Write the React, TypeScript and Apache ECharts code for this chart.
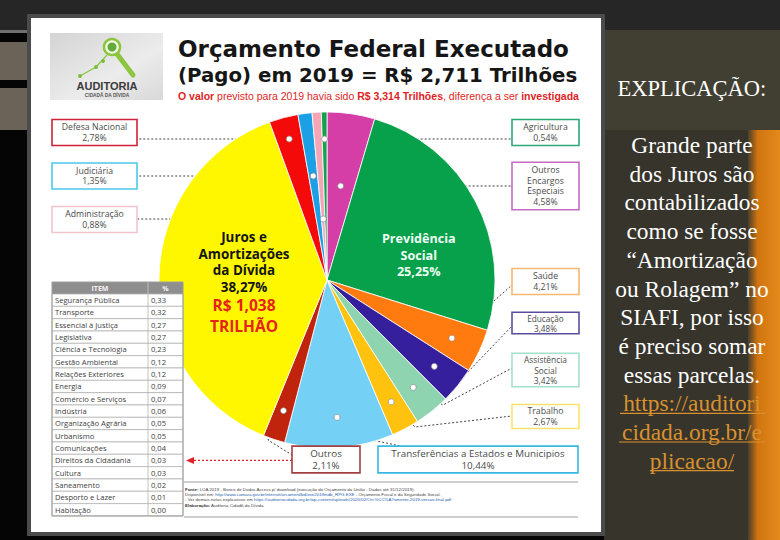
import React, { useEffect, useRef } from 'react';
import * as echarts from 'echarts';

// ---------- DATA ----------
const categories = [
  'Outros Encargos Especiais', 'Previdência Social', 'Saúde', 'Educação', 'Assistência Social',
  'Trabalho', 'Transferências a Estados e Municipios', 'Outros', 'Juros e Amortizações da Dívida',
  'Defesa Nacional', 'Judiciária', 'Administração', 'Agricultura',
];
const shares = [4.58, 25.25, 4.21, 3.48, 3.42, 2.67, 10.44, 2.11, 38.27, 2.78, 1.35, 0.88, 0.54];
const labelNames = [
  'Outros\nEncargos\nEspeciais', 'Previdência\nSocial', 'Saúde', 'Educação', 'Assistência\nSocial',
  'Trabalho', 'Transferências a Estados e Municipios', 'Outros', 'Juros e\nAmortizações\nda Dívida',
  'Defesa Nacional', 'Judiciária', 'Administração', 'Agricultura',
];
const jurosValue = 'R$ 1,038';
const jurosUnit = 'TRILHÃO';

const tableItems = [
  'Segurança Pública', 'Transporte', 'Essencial à Justiça', 'Legislativa', 'Ciência e Tecnologia',
  'Gestão Ambiental', 'Relações Exteriores', 'Energia', 'Comércio e Serviços', 'Indústria',
  'Organização Agrária', 'Urbanismo', 'Comunicações', 'Direitos da Cidadania', 'Cultura',
  'Saneamento', 'Desporto e Lazer', 'Habitação',
];
const tableValues = [0.33, 0.32, 0.27, 0.27, 0.23, 0.12, 0.12, 0.09, 0.07, 0.06, 0.05, 0.05, 0.04, 0.03, 0.03, 0.02, 0.01, 0.0];

const titleLine1 = 'Orçamento Federal Executado';
const titleLine2 = '(Pago) em 2019 = R$ 2,711 Trilhões';

const explanationTitle = 'EXPLICAÇÃO:';
const explanationLines = [
  'Grande parte', 'dos Juros são', 'contabilizados', 'como se fosse', '“Amortização',
  'ou Rolagem” no', 'SIAFI, por isso', 'é preciso somar', 'essas parcelas.',
];
const linkLines = ['https://auditori', 'cidada.org.br/e', 'plicacao/'];

const footerLines = [
  '{b|Fonte:} LOA 2019 - Banco de Dados Access p/ download (execução do Orçamento da União - Dados até 31/12/2019).',
  'Disponível em: {l|http://www.camara.gov.br/internet/orcament/bd/exe2019mdb_RPG.EXE} - Orçamento Fiscal e da Seguridade Social.',
  '- Ver demais notas explicativas em {l|https://auditoriacidada.org.br/wp-content/uploads/2020/02/Orc%CC%A7amento-2019-versao-final.pdf}',
  '{b|Elaboração:} Auditoria Cidadã da Dívida.',
];

// ---------- STYLE / LAYOUT ----------
const sliceColors = [
  '#d63ea7', '#07a04b', '#ff7b0f', '#351f9c', '#8ed4b0', '#ffc20e', '#74d0f4',
  '#c1240c', '#fff700', '#f50a0a', '#1ba0e6', '#f5a5b5', '#14a04e',
];
const PIE_CX = 327;
const PIE_CY = 280;
const PIE_R = 168;

type Box = { cx: number; cy: number; w: number; color: string; fs: number; lh: number; pad: number[] };
const boxes: Record<number, Box> = {
  0: { cx: 545.5, cy: 186, w: 67, color: '#c46ac4', fs: 8.7, lh: 10.7, pad: [1.5, 3] },
  2: { cx: 545.5, cy: 281.5, w: 67, color: '#f5b870', fs: 8.7, lh: 10.7, pad: [1.5, 3] },
  3: { cx: 545.5, cy: 323, w: 67, color: '#5b4d9e', fs: 8.2, lh: 10, pad: [0, 3] },
  4: { cx: 545.5, cy: 370, w: 67, color: '#a6e0cc', fs: 8.4, lh: 10.3, pad: [0.5, 3] },
  5: { cx: 545.5, cy: 416.5, w: 67, color: '#ffe36b', fs: 8.7, lh: 10.7, pad: [0.5, 3] },
  6: { cx: 478, cy: 459.5, w: 200, color: '#38b8e0', fs: 9.8, lh: 12.1, pad: [0.5, 4] },
  7: { cx: 326, cy: 459.5, w: 68, color: '#a04040', fs: 9.8, lh: 12.1, pad: [0.5, 3] },
  9: { cx: 94.5, cy: 132.5, w: 85, color: '#d0203a', fs: 8.7, lh: 10.7, pad: [1.5, 3] },
  10: { cx: 94.5, cy: 176, w: 85, color: '#4cc8ec', fs: 8.7, lh: 10.7, pad: [1.5, 3] },
  11: { cx: 94.5, cy: 219.5, w: 85, color: '#f2c4cc', fs: 8.7, lh: 10.7, pad: [1.5, 3] },
  12: { cx: 545.5, cy: 132.5, w: 67, color: '#2aa876', fs: 8.7, lh: 10.7, pad: [1.5, 3] },
};
// horizontal leader lines: [y, x at box edge]
const hLines: Record<number, number[]> = { 0: [186, 512], 9: [139, 137], 10: [176, 137], 11: [219, 137], 12: [139, 512] };
// bent leader lines: intermediate points after the dot
const bentLines: Record<number, number[][]> = {
  2: [[512, 285]],
  3: [[465, 375], [512, 326]],
  4: [[443, 405], [512, 368]],
  5: [[415, 427], [512, 416]],
  6: [[372, 440], [405, 447]],
  7: [[268, 440], [292, 455]],
};
const DOT_FRAC = 0.82;

const fmt = (v: number) => v.toFixed(2).replace('.', ',');
const total = shares.reduce((a, b) => a + b, 0);
const midAngle = (i: number) => {
  let before = 0;
  for (let k = 0; k < i; k++) before += shares[k];
  return ((before + shares[i] / 2) / total) * 2 * Math.PI;
};
const dotPos = (i: number): number[] => {
  const a = midAngle(i);
  let t = PIE_R * DOT_FRAC;
  if (hLines[i]) t = (PIE_CY - hLines[i][0]) / Math.cos(a);
  return [PIE_CX + t * Math.sin(a), PIE_CY - t * Math.cos(a)];
};
const linePoints = (i: number): number[][] => {
  const d = dotPos(i);
  if (hLines[i]) return [d, [(d[0] + hLines[i][1]) / 2, d[1]], [hLines[i][1], d[1]]];
  const rest = bentLines[i];
  if (rest.length === 1) return [d, [(d[0] + rest[0][0]) / 2, (d[1] + rest[0][1]) / 2], rest[0]];
  return [d, ...rest];
};

const BOX_FONT = "'Open Sans', 'Noto Sans', sans-serif";

function buildPieData() {
  return categories.map((name, i) => {
    const base: any = { name, value: shares[i], itemStyle: { color: sliceColors[i] } };
    if (i === 8) {
      base.label = {
        show: true,
        position: 'inside',
        formatter: labelNames[i].split('\n').map((s) => `{a|${s}}`).join('\n') +
          `\n{a|${fmt(shares[i])}%}\n{b|${jurosValue}}\n{b|${jurosUnit}}`,
        rich: {
          a: { fontSize: 13.4, fontWeight: 'bold', color: '#141414', lineHeight: 16.6, fontFamily: BOX_FONT, align: 'center' },
          b: { fontSize: 15.5, fontWeight: 'bold', color: '#e5231b', lineHeight: 20.5, fontFamily: BOX_FONT, align: 'center' },
        },
      };
      base.labelLine = { show: false };
    } else if (i === 1) {
      base.label = {
        show: true,
        position: 'inside',
        formatter: `${labelNames[i]}\n${fmt(shares[i])}%`,
        fontSize: 12.6,
        fontWeight: 'bold',
        lineHeight: 16.6,
        color: '#eefff4',
        fontFamily: BOX_FONT,
        align: 'center',
      };
      base.labelLine = { show: false };
    } else {
      const b = boxes[i];
      base.label = {
        show: true,
        position: 'outside',
        formatter: `${labelNames[i]}\n${fmt(shares[i])}%`,
        fontSize: b.fs,
        lineHeight: b.lh,
        color: '#4a4a4a',
        fontFamily: BOX_FONT,
        align: 'center',
        backgroundColor: '#ffffff',
        borderColor: b.color,
        borderWidth: 1.6,
        padding: b.pad,
        width: b.w - b.pad[1] * 2 - 1.6,
      };
      base.labelLine = { show: true, length: 5, length2: 5, lineStyle: { type: [2, 2], color: '#444', width: 1 } };
    }
    return base;
  });
}

function buildGraphics() {
  const g: any[] = [];
  // page background
  g.push({ type: 'rect', z: -20, shape: { x: 0, y: 0, width: 780, height: 540 }, style: { fill: '#050505' } });
  g.push({ type: 'rect', z: -19, shape: { x: 0, y: 0, width: 780, height: 30 }, style: { fill: '#262626' } });
  g.push({ type: 'rect', z: -19, shape: { x: 604, y: 30, width: 176, height: 510 }, style: { fill: '#36342b' } });
  g.push({ type: 'rect', z: -19, shape: { x: 604, y: 30, width: 176, height: 100 }, style: { fill: '#413e32' } });
  g.push({
    type: 'rect', z: -18, shape: { x: 748, y: 130, width: 32, height: 410 },
    style: {
      fill: new echarts.graphic.LinearGradient(0, 0, 1, 0, [
        { offset: 0, color: 'rgba(80,66,42,0.9)' },
        { offset: 0.3, color: '#d0740f' },
        { offset: 1, color: '#e58a1c' },
      ]),
    },
  });
  // left strip bands
  g.push({ type: 'rect', z: -19, shape: { x: 0, y: 30, width: 28, height: 3 }, style: { fill: '#6f6f6f' } });
  g.push({ type: 'rect', z: -19, shape: { x: 0, y: 42, width: 28, height: 38 }, style: { fill: '#6b6357' } });
  g.push({ type: 'rect', z: -19, shape: { x: 0, y: 88, width: 28, height: 42 }, style: { fill: '#6b6357' } });
  // card
  g.push({ type: 'rect', z: -15, shape: { x: 29, y: 16, width: 574, height: 518 }, style: { fill: '#ffffff', stroke: '#4b4b4b', lineWidth: 4 } });

  // logo
  g.push({
    type: 'rect', z: -10, shape: { x: 50, y: 33, width: 113, height: 67 },
    style: {
      fill: new echarts.graphic.LinearGradient(0, 0, 1, 1, [
        { offset: 0, color: '#d4d4d4' },
        { offset: 0.6, color: '#ececec' },
        { offset: 1, color: '#d8d8d8' },
      ]),
    },
  });
  g.push({ type: 'polyline', z: -9, shape: { points: [[80, 76], [96, 67], [107, 55]] }, style: { stroke: '#8cc63f', lineWidth: 1.3, fill: 'none' } });
  [[80, 76], [96, 67], [103, 61]].forEach((p) => g.push({ type: 'circle', z: -8, shape: { cx: p[0], cy: p[1], r: 2 }, style: { fill: '#7cbf3a' } }));
  g.push({ type: 'line', z: -9, shape: { x1: 117, y1: 54, x2: 133, y2: 75 }, style: { stroke: '#8cc63f', lineWidth: 5, lineCap: 'round' } });
  g.push({ type: 'circle', z: -8, shape: { cx: 112, cy: 47, r: 8 }, style: { fill: '#f4fbe9', stroke: '#8cc63f', lineWidth: 2.5 } });
  g.push({ type: 'circle', z: -7, shape: { cx: 112, cy: 47, r: 4.5 }, style: { fill: '#62ad3a' } });
  g.push({ type: 'text', z: -7, style: { text: 'AUDITORIA', x: 107, y: 86, align: 'center', verticalAlign: 'middle', fontSize: 11, fontWeight: 'bold', fill: '#3a3a3a', fontFamily: "'Liberation Sans', Arial, sans-serif" } });
  g.push({ type: 'text', z: -7, style: { text: 'CIDADÃ DA DÍVIDA', x: 107, y: 95, align: 'center', verticalAlign: 'middle', fontSize: 4.8, fontWeight: 'bold', fill: '#555', fontFamily: "'Liberation Sans', Arial, sans-serif" } });

  // title
  const titleFont = "'DejaVu Sans', sans-serif";
  g.push({ type: 'text', z: 5, style: { text: titleLine1, x: 178, y: 49, verticalAlign: 'middle', fontSize: 23, fontWeight: 'bold', fill: '#161616', fontFamily: titleFont } });
  g.push({ type: 'text', z: 5, style: { text: titleLine2, x: 178, y: 75, verticalAlign: 'middle', fontSize: 19.8, fontWeight: 'bold', fill: '#161616', fontFamily: titleFont } });
  g.push({
    type: 'text', z: 5,
    style: {
      text: '{b|O valor} previsto para 2019 havia sido {b|R$ 3,314 Trilhões}, diferença a ser {b|investigada}',
      x: 178, y: 96, verticalAlign: 'middle', fontSize: 10.5, fill: '#de1f26',
      fontFamily: "'Liberation Sans Narrow', 'Liberation Sans', sans-serif",
      rich: { b: { fontSize: 10.5, fontWeight: 'bold', fill: '#de1f26', fontFamily: "'Liberation Sans Narrow', 'Liberation Sans', sans-serif" } },
    },
  });

  // table
  const tx0 = 52, tx1 = 183, tcol = 148, ty0 = 282, headH = 12, rowH = 12.33;
  g.push({ type: 'rect', z: 5, shape: { x: tx0, y: ty0, width: tx1 - tx0, height: headH }, style: { fill: '#8e8e8e' } });
  g.push({ type: 'line', z: 6, shape: { x1: tcol, y1: ty0, x2: tcol, y2: ty0 + headH }, style: { stroke: '#bdbdbd', lineWidth: 1 } });
  g.push({ type: 'text', z: 6, style: { text: 'ITEM', x: (tx0 + tcol) / 2, y: ty0 + headH / 2, align: 'center', verticalAlign: 'middle', fontSize: 7, fontWeight: 'bold', fill: '#f4f4f4', fontFamily: BOX_FONT } });
  g.push({ type: 'text', z: 6, style: { text: '%', x: (tcol + tx1) / 2, y: ty0 + headH / 2, align: 'center', verticalAlign: 'middle', fontSize: 7, fontWeight: 'bold', fill: '#f4f4f4', fontFamily: BOX_FONT } });
  tableItems.forEach((item, i) => {
    const y = ty0 + headH + i * rowH;
    g.push({ type: 'rect', z: 5, shape: { x: tx0, y, width: tx1 - tx0, height: rowH }, style: { fill: '#fff', stroke: '#b4b4b4', lineWidth: 0.8 } });
    g.push({ type: 'line', z: 6, shape: { x1: tcol, y1: y, x2: tcol, y2: y + rowH }, style: { stroke: '#b4b4b4', lineWidth: 0.8 } });
    g.push({ type: 'text', z: 6, style: { text: item, x: tx0 + 3, y: y + rowH / 2, verticalAlign: 'middle', fontSize: 7.6, fill: '#404040', fontFamily: BOX_FONT } });
    g.push({ type: 'text', z: 6, style: { text: fmt(tableValues[i]), x: tcol + 3, y: y + rowH / 2, verticalAlign: 'middle', fontSize: 7.6, fill: '#404040', fontFamily: BOX_FONT } });
  });
  g.push({ type: 'rect', z: 6, shape: { x: tx0, y: ty0, width: tx1 - tx0, height: headH + rowH * tableItems.length }, style: { fill: 'none', stroke: '#9c9c9c', lineWidth: 1 } });

  // red arrow from Outros box to table
  const arrowY = ty0 + headH + 13.5 * rowH;
  g.push({ type: 'line', z: 7, shape: { x1: 292, y1: arrowY, x2: 192, y2: arrowY }, style: { stroke: '#e0202a', lineWidth: 1.2, lineDash: [2, 2] } });
  g.push({ type: 'polygon', z: 7, shape: { points: [[186, arrowY], [194, arrowY - 3.5], [194, arrowY + 3.5]] }, style: { fill: '#e0202a' } });

  // dots at leader line starts
  categories.forEach((_, i) => {
    if (i === 1 || i === 8) return;
    const d = dotPos(i);
    g.push({ type: 'circle', z: 100, shape: { cx: d[0], cy: d[1], r: 3 }, style: { fill: '#ffffff', stroke: '#8a8a8a', lineWidth: 0.7 } });
  });

  // footer
  g.push({ type: 'line', z: 5, shape: { x1: 184, y1: 482, x2: 578, y2: 482 }, style: { stroke: '#a0a0a0', lineWidth: 1.2 } });
  g.push({ type: 'line', z: 5, shape: { x1: 184, y1: 517, x2: 578, y2: 517 }, style: { stroke: '#a0a0a0', lineWidth: 1.2 } });
  footerLines.forEach((t, i) => {
    g.push({
      type: 'text', z: 5,
      style: {
        text: t, x: 185, y: 489 + i * 5.4, verticalAlign: 'middle', fontSize: 4.4, fill: '#444', fontFamily: "'Liberation Sans', sans-serif",
        rich: {
          b: { fontSize: 4.4, fontWeight: 'bold', fill: '#333', fontFamily: "'Liberation Sans', sans-serif" },
          l: { fontSize: 4.4, fill: '#1f5fb0', fontFamily: "'Liberation Sans', sans-serif" },
        },
      },
    });
  });

  // right-side explanation
  const serif = "'Liberation Serif', 'DejaVu Serif', serif";
  g.push({ type: 'text', z: 5, style: { text: explanationTitle, x: 692, y: 88, align: 'center', verticalAlign: 'middle', fontSize: 22.5, fill: '#ffffff', fontFamily: serif } });
  explanationLines.forEach((t, i) => {
    g.push({ type: 'text', z: 5, style: { text: t, x: 692, y: 145 + i * 28.7, align: 'center', verticalAlign: 'middle', fontSize: 23.4, fill: '#ffffff', fontFamily: serif } });
  });
  const linkExtents = [[620, 765], [619, 765], [650, 734]];
  linkLines.forEach((t, i) => {
    const y = 145 + (explanationLines.length + i) * 28.7;
    g.push({ type: 'text', z: 5, style: { text: t, x: 692, y, align: 'center', verticalAlign: 'middle', fontSize: 23.4, fill: '#d99130', fontFamily: serif } });
    g.push({ type: 'line', z: 5, shape: { x1: linkExtents[i][0], y1: y + 10, x2: linkExtents[i][1], y2: y + 10 }, style: { stroke: '#d99130', lineWidth: 1.2 } });
  });
  return g;
}

export default function App() {
  const ref = useRef<HTMLDivElement>(null);
  useEffect(() => {
    if (!ref.current) return;
    const chart = echarts.init(ref.current, undefined, { renderer: 'svg' });
    chart.setOption({
      animation: false,
      backgroundColor: 'transparent',
      graphic: { elements: buildGraphics() },
      series: [
        {
          type: 'pie',
          z: 2,
          center: [PIE_CX, PIE_CY],
          radius: [0, PIE_R],
          startAngle: 90,
          clockwise: true,
          avoidLabelOverlap: false,
          silent: true,
          itemStyle: { borderColor: '#ffffff', borderWidth: 0.8 },
          data: buildPieData(),
          labelLayout: (params: any) => {
            const i = params.dataIndex;
            if (i === 8) return { dx: 4, dy: 4 };
            if (i === 1) return { dx: 15, dy: 16 };
            const b = boxes[i];
            return {
              x: b.cx,
              y: b.cy,
              align: 'center',
              verticalAlign: 'middle',
              labelLinePoints: linePoints(i),
            };
          },
        },
      ],
    });
    return () => chart.dispose();
  }, []);
  return <div ref={ref} style={{ position: 'absolute', left: 0, top: 0, width: 780, height: 540 }} />;
}
